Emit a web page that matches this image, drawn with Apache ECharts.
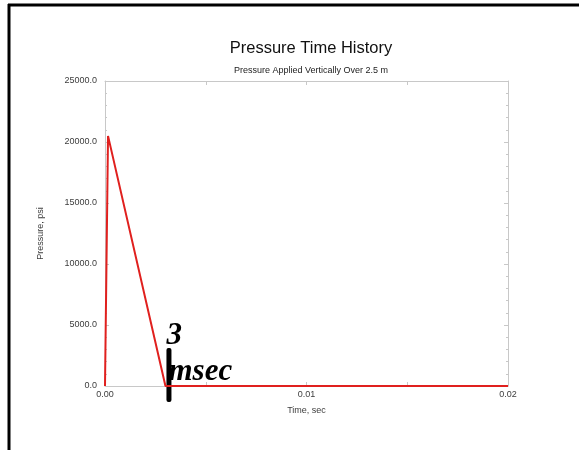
<!DOCTYPE html>
<html>
<head>
<meta charset="utf-8">
<script src="https://cdn.jsdelivr.net/npm/echarts@6/dist/echarts.min.js"></script>
<style>
  html, body { margin: 0; padding: 0; background: #fff; }
  #chart { width: 579px; height: 450px; }
</style>
</head>
<body>
<div id="chart"></div>
<script>
  // time (sec) and pressure (psi)
  const timeSec = [0, 0.00015, 0.003, 0.02];
  const pressurePsi = [0, 20500, 0, 0];
  const noteTime = 0.003;
  const noteLabels = ['3', 'msec'];

  const axisGray = '#c8c8c8';
  const textGray = '#3c3c3c';

  const chart = echarts.init(document.getElementById('chart'));

  const sideAxis = {
    min: 0,
    axisLine: { show: true, onZero: false, lineStyle: { color: axisGray } },
    axisTick: { show: true, inside: true, length: 4, lineStyle: { color: axisGray } },
    axisLabel: { show: false },
    splitLine: { show: false }
  };

  chart.setOption({
    animation: false,
    title: [
      {
        text: 'Pressure Time History',
        left: 306, top: 35, textAlign: 'center',
        textStyle: { fontFamily: 'Liberation Sans', fontSize: 16.5, fontWeight: 'normal', color: '#111' }
      },
      {
        text: 'Pressure Applied Vertically Over 2.5 m',
        left: 306, top: 61, textAlign: 'center',
        textStyle: { fontFamily: 'Liberation Sans', fontSize: 9, fontWeight: 'normal', color: '#222' }
      }
    ],
    grid: { left: 105, right: 71, top: 81, bottom: 64 },
    xAxis: [
      {
        type: 'value', min: 0, max: 0.02, interval: 0.01,
        name: 'Time, sec', nameLocation: 'middle', nameGap: 20,
        nameTextStyle: { fontFamily: 'Liberation Sans', fontSize: 9, color: textGray },
        axisLine: { show: true, onZero: false, lineStyle: { color: axisGray } },
        axisTick: { show: true, inside: true, length: 4, lineStyle: { color: axisGray } },
        minorTick: { show: true, splitNumber: 2, length: 4, lineStyle: { color: axisGray } },
        axisLabel: {
          fontFamily: 'Liberation Sans', fontSize: 9, color: textGray, margin: 4,
          formatter: v => v.toFixed(2)
        },
        splitLine: { show: false }
      },
      Object.assign({}, sideAxis, {
        type: 'value', position: 'top', max: 0.02, interval: 0.01,
        minorTick: { show: true, splitNumber: 2, length: 4, lineStyle: { color: axisGray } }
      })
    ],
    yAxis: [
      {
        type: 'value', min: 0, max: 25000, interval: 5000,
        name: 'Pressure, psi', nameLocation: 'middle', nameGap: 60,
        nameTextStyle: { fontFamily: 'Liberation Sans', fontSize: 9, color: textGray },
        axisLine: { show: true, onZero: false, lineStyle: { color: axisGray } },
        axisTick: { show: true, inside: true, length: 4, lineStyle: { color: axisGray } },
        minorTick: { show: true, splitNumber: 5, length: 2, lineStyle: { color: axisGray } },
        axisLabel: {
          fontFamily: 'Liberation Sans', fontSize: 9, color: textGray, margin: 8,
          formatter: v => v.toFixed(1)
        },
        splitLine: { show: false }
      },
      Object.assign({}, sideAxis, {
        type: 'value', position: 'right', max: 25000, interval: 5000,
        minorTick: { show: true, splitNumber: 5, length: 2, lineStyle: { color: axisGray } }
      })
    ],
    series: [
      {
        type: 'line',
        data: timeSec.map((t, i) => [t, pressurePsi[i]]),
        symbol: 'none',
        lineStyle: { color: '#e0201e', width: 2 }
      }
    ]
  });

  // annotation placed through the axis scale
  const base = chart.convertToPixel({ gridIndex: 0 }, [noteTime, 0]);
  const noteFont = 'italic bold 31px "Liberation Serif", "DejaVu Serif", serif';

  chart.setOption({
    graphic: [
      { type: 'line', shape: { x1: 8, y1: 5, x2: 579, y2: 5 }, style: { stroke: '#000', lineWidth: 3 } },
      { type: 'line', shape: { x1: 9, y1: 4, x2: 9, y2: 450 }, style: { stroke: '#000', lineWidth: 3 } },
      {
        type: 'rect',
        shape: { x: base[0] + 1, y: base[1] - 38, width: 5, height: 54, r: 2 },
        style: { fill: '#000' }
      },
      {
        type: 'text', x: base[0] + 1, y: base[1] - 35,
        style: { text: noteLabels[0], font: noteFont, fill: '#000', textVerticalAlign: 'bottom' }
      },
      {
        type: 'text', x: base[0] + 3, y: base[1] + 1,
        style: { text: noteLabels[1], font: noteFont, fill: '#000', textVerticalAlign: 'bottom' }
      }
    ]
  });
</script>
</body>
</html>
